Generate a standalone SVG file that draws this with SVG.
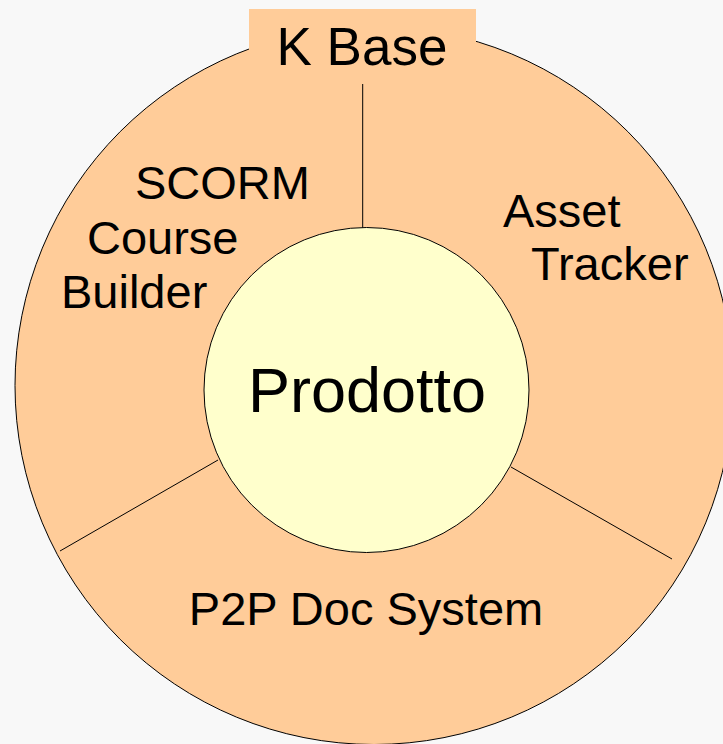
<svg xmlns="http://www.w3.org/2000/svg" width="723" height="744" viewBox="0 0 723 744">
<style>
.t{font-family:"Liberation Sans",Arial,sans-serif;fill:#000}
.ln{stroke:#000;stroke-width:1;fill:none}
</style>
<rect width="723" height="744" fill="#f8f8f8"/>
<g id="outer">
<circle cx="374" cy="385.5" r="359" fill="#ffcc99" stroke="#000" stroke-width="1"/>
</g>
<g id="kbase">
<rect x="249" y="9" width="227" height="60" fill="#ffcc99"/>
<text class="t" x="362" y="65" font-size="53" text-anchor="middle">K Base</text>
</g>
<g id="connectors">
<line class="ln" x1="362.7" y1="84" x2="362.7" y2="228"/>
<line class="ln" x1="60" y1="551" x2="218" y2="460"/>
<line class="ln" x1="511" y1="467" x2="672" y2="559"/>
</g>
<g id="scorm">
<text class="t" font-size="47"><tspan x="135" y="199">SCORM</tspan><tspan x="87" y="254">Course</tspan><tspan x="61" y="308">Builder</tspan></text>
</g>
<g id="asset">
<text class="t" font-size="47"><tspan x="503" y="227">Asset</tspan><tspan x="531" y="280">Tracker</tspan></text>
</g>
<g id="p2p">
<text class="t" x="366" y="625" font-size="47" text-anchor="middle">P2P Doc System</text>
</g>
<g id="prodotto">
<circle cx="366.5" cy="390" r="162.5" fill="#ffffcc" stroke="#000" stroke-width="1"/>
<text class="t" x="367" y="412" font-size="63" text-anchor="middle">Prodotto</text>
</g>
</svg>
